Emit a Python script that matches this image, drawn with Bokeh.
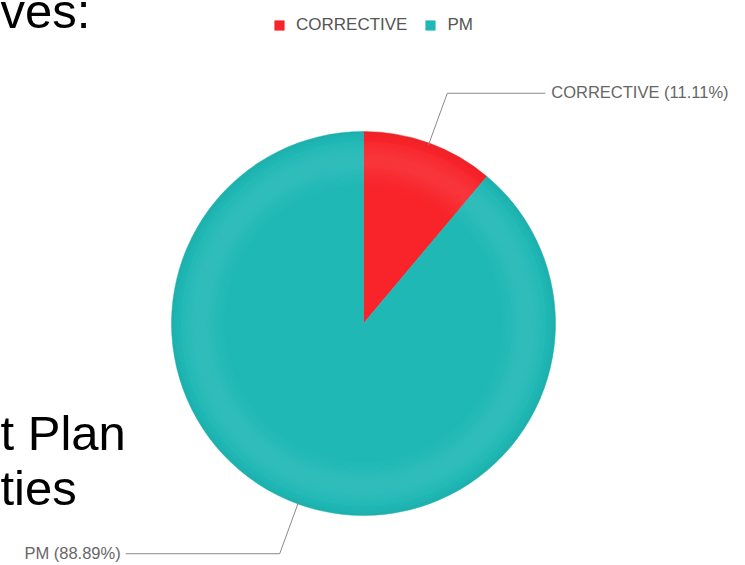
import math
from bokeh.plotting import figure
from bokeh.models import Range1d, ColumnDataSource, Legend, LegendItem
from bokeh.core.properties import value
from bokeh.embed import file_html
from bokeh.resources import INLINE

# ---- data ----
categories = ["CORRECTIVE", "PM"]
percent = [11.11, 88.89]
colors = ["#F8242A", "#1FB8B5"]
slide_lines = ["ves:", "t Plan", "ties"]

# ---- layout (picture pixels, y measured from top) ----
W, H = 745, 565
BASE_FIX = 20  # compensate alphabetic-baseline offset of the text glyph


def Y(py):
    return H - py


cx, cy, R = 363, Y(323), 192
ELBOW_R = 245

p = figure(width=W, height=H, x_range=Range1d(0, W), y_range=Range1d(0, H),
           output_backend="svg", toolbar_location=None, min_border=0,
           outline_line_color=None, background_fill_color="white",
           border_fill_color="white")
p.axis.visible = False
p.grid.visible = False

# slide text fragments behind the chart
p.text(x=[0, 0, 0], y=[Y(30) + BASE_FIX, Y(452) + BASE_FIX, Y(507) + BASE_FIX],
       text=slide_lines, text_font=value("Liberation Sans"), text_font_size="49px",
       text_color="black", text_baseline="alphabetic", text_align="left")

# ---- pie ----
total = sum(percent)
starts, ends, mids = [], [], []
a = math.pi / 2
for v in percent:
    sweep = 2 * math.pi * v / total
    starts.append(a)
    ends.append(a - sweep)
    mids.append(a - sweep / 2)
    a -= sweep

src = ColumnDataSource(dict(x=[cx] * len(percent), y=[cy] * len(percent),
                            start=starts, end=ends, color=colors, label=categories))
r = p.wedge(x="x", y="y", radius=R, start_angle="start", end_angle="end",
            direction="clock", fill_color="color", line_color="color",
            line_width=0.5, source=src)

# soft radial shading (light ring near the rim, slightly darker edge)
n_bands = 40
inner0 = 0.5 * R
bw = (R - inner0) / n_bands
ir, orr, fc, fa = [], [], [], []
for k in range(n_bands):
    r0 = inner0 + k * bw
    rm = (r0 + bw / 2) / R
    ir.append(r0)
    orr.append(r0 + bw)
    if rm > 0.95:
        fc.append("black")
        fa.append(0.045 * (rm - 0.95) / 0.05)
    else:
        fc.append("white")
        fa.append(0.08 * math.exp(-((rm - 0.85) / 0.09) ** 2))
p.annulus(x=[cx] * n_bands, y=[cy] * n_bands, inner_radius=ir, outer_radius=orr,
          fill_color=fc, fill_alpha=fa, line_color=None)

# ---- leader lines and labels ----
lx, ly, tx, ty, tt, ta = [], [], [], [], [], []
for cat, v, m in zip(categories, percent, mids):
    x0, y0 = cx + (R - 2) * math.cos(m), cy + (R - 2) * math.sin(m)
    x1, y1 = cx + ELBOW_R * math.cos(m), cy + ELBOW_R * math.sin(m)
    if math.cos(m) >= 0:
        x2 = x1 + 98
        tx.append(x2 + 6)
        ta.append("left")
    else:
        x2 = x1 - 154
        tx.append(x2 - 5)
        ta.append("right")
    lx.append([x0, x1, x2])
    ly.append([y0, y1, y1])
    ty.append(y1 + 1)
    tt.append(f"{cat} ({v:.2f}%)")

p.multi_line(xs=lx, ys=ly, line_color="#8a8a8a", line_width=1)
p.text(x=tx, y=ty, text=tt, text_align=ta, text_baseline="middle",
       text_font=value("Liberation Sans"), text_font_size="16.5px",
       text_color="#666666")

# ---- legend ----
items = [LegendItem(label=c, renderers=[r], index=i) for i, c in enumerate(categories)]
legend = Legend(items=items, orientation="horizontal", location=(273, Y(35)),
                glyph_width=12, glyph_height=12, label_height=12,
                label_text_font="Liberation Sans",
                label_text_font_size="17px", label_text_color="#555555",
                label_standoff=11, spacing=17, padding=0, margin=0,
                border_line_color=None, background_fill_alpha=0)
p.add_layout(legend)

open("out.html", "w").write(file_html(p, INLINE))
